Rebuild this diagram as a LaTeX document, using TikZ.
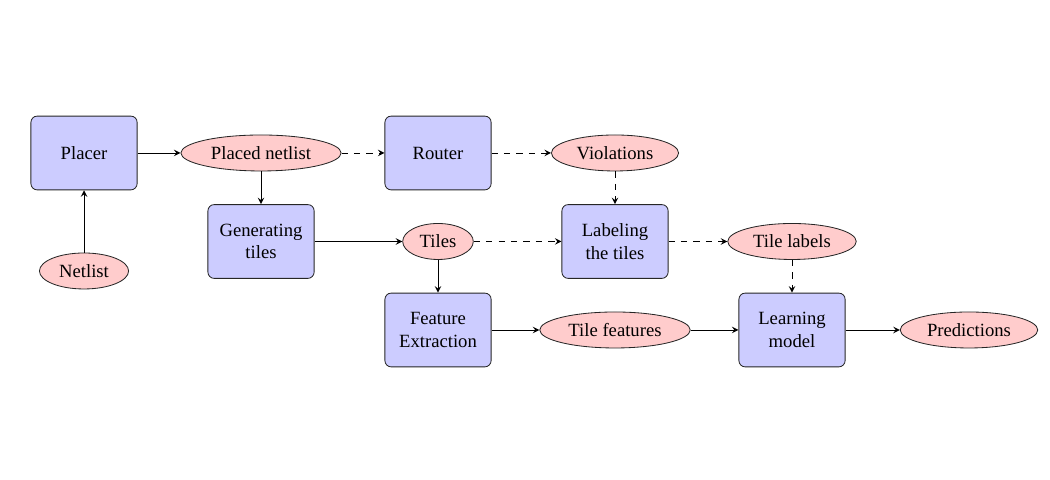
\documentclass[tikz,border=0pt]{standalone}
\usepackage{fontspec}
\setmainfont{Liberation Serif}
\usetikzlibrary{shapes.geometric}
\usetikzlibrary{arrows}

\begin{document}
\begin{tikzpicture}[tool/.style={rectangle, rounded corners=3pt, draw=black!85, fill=blue!20, minimum width=1.8cm, minimum height=1.25cm, align=center, font=\small},
  data/.style={ellipse, draw=black!85, fill=red!20, inner xsep=3.2pt, inner ysep=1pt, minimum height=0.61cm, font=\small},
  flow/.style={-stealth},
  later/.style={-stealth, dashed}]
\useasboundingbox (-1.424,2.593) rectangle (16.373,-5.542);

  % placement
  \node[data] (netlist) at (0,-2) {Netlist};
  \node[tool] (placer) at (0,0) {Placer};
  \node[data] (placed) at (3,0) {Placed netlist};

  % routing
  \node[tool] (router) at (6,0) {Router};
  \node[data] (viol) at (9,0) {Violations};

  % tiles
  \node[tool] (gen) at (3,-1.5) {Generating\\tiles};
  \node[data] (tiles) at (6,-1.5) {Tiles};
  \node[tool] (label) at (9,-1.5) {Labeling\\the tiles};
  \node[data] (tlabels) at (12,-1.5) {Tile labels};

  % learning
  \node[tool] (feat) at (6,-3) {Feature\\Extraction};
  \node[data] (tfeat) at (9,-3) {Tile features};
  \node[tool] (model) at (12,-3) {Learning\\model};
  \node[data] (pred) at (15,-3) {Predictions};

  % connectors
  \draw[flow] (netlist) -- (placer);
  \draw[flow] (placer) -- (placed);
  \draw[later] (placed) -- (router);
  \draw[later] (router) -- (viol);
  \draw[flow] (placed) -- (gen);
  \draw[flow] (gen) -- (tiles);
  \draw[later] (tiles) -- (label);
  \draw[later] (viol) -- (label);
  \draw[later] (label) -- (tlabels);
  \draw[later] (tlabels) -- (model);
  \draw[flow] (tiles) -- (feat);
  \draw[flow] (feat) -- (tfeat);
  \draw[flow] (tfeat) -- (model);
  \draw[flow] (model) -- (pred);
\end{tikzpicture}
\end{document}
